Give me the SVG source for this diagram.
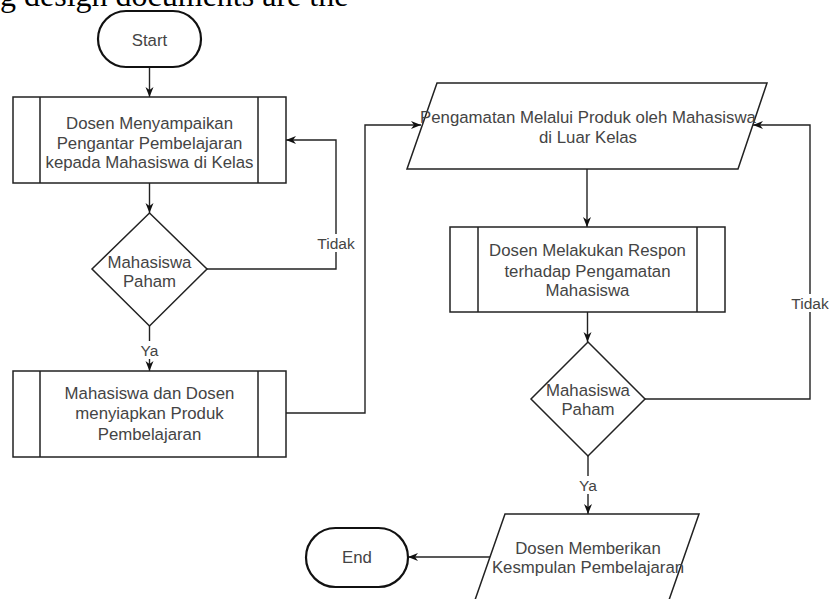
<svg xmlns="http://www.w3.org/2000/svg" width="829" height="599" viewBox="0 0 829 599">
<style>
.shape{fill:#fff;stroke:#222;stroke-width:1.5}
.term{fill:#fff;stroke:#111;stroke-width:2.2}
.t{font-family:"Liberation Sans",Arial,sans-serif;font-size:16.8px;fill:#444;text-anchor:middle;dominant-baseline:central}
.lbl{font-family:"Liberation Sans",Arial,sans-serif;font-size:15.5px;fill:#444;text-anchor:middle;dominant-baseline:central}
.c{fill:none;stroke:#222;stroke-width:1.4;marker-end:url(#ah)}
.bg{fill:#fff;stroke:none}
</style>
<defs>
<marker id="ah" viewBox="0 0 10 10" refX="10" refY="5" markerWidth="10" markerHeight="10" markerUnits="userSpaceOnUse" orient="auto">
<path d="M0,1 L10,5 L0,9 L3,5 z" fill="#111"/>
</marker>
</defs>
<rect width="829" height="599" fill="#fff"/>
<text x="0" y="6" font-family="'Liberation Serif','Times New Roman',serif" font-size="32" fill="#000">g design documents are the</text>

<g id="connectors">
<path class="c" d="M149.5,67 V97"/>
<path class="c" d="M149.5,183 V213"/>
<path class="c" d="M149.5,326 V371"/>
<path class="c" d="M207,269 H336 V140 H286"/>
<path class="c" d="M286,413 H365 V125 H421"/>
<path class="c" d="M587,169 V227"/>
<path class="c" d="M587.5,312 V342"/>
<path class="c" d="M588,456 V514"/>
<path class="c" d="M645,399 H810 V125 H753"/>
<path class="c" d="M490,557 H408"/>
<rect class="bg" x="139" y="341" width="21" height="18"/>
<text class="lbl" x="149.5" y="350">Ya</text>
<rect class="bg" x="315" y="234" width="42" height="18"/>
<text class="lbl" x="336" y="243">Tidak</text>
<rect class="bg" x="577" y="476" width="22" height="18"/>
<text class="lbl" x="588" y="485">Ya</text>
<rect class="bg" x="789" y="294" width="42" height="18"/>
<text class="lbl" x="810" y="303">Tidak</text>
</g>

<g id="start">
<rect class="term" x="98" y="11" width="103" height="56" rx="28"/>
<text class="t" x="149.5" y="40">Start</text>
</g>

<g id="box1">
<rect class="shape" x="13" y="97" width="273" height="86"/>
<path class="shape" d="M40,97 V183 M258,97 V183"/>
<text class="t" x="149.5" y="123">Dosen Menyampaikan</text>
<text class="t" x="149.5" y="143">Pengantar Pembelajaran</text>
<text class="t" x="149.5" y="162">kepada Mahasiswa di Kelas</text>
</g>

<g id="decision1">
<path class="shape" d="M149.5,213 L207,269 L149.5,326 L92,269 Z"/>
<text class="t" x="149.5" y="262">Mahasiswa</text>
<text class="t" x="149.5" y="281">Paham</text>
</g>

<g id="box2">
<rect class="shape" x="13" y="371" width="273" height="86"/>
<path class="shape" d="M40,371 V457 M258,371 V457"/>
<text class="t" x="149.5" y="393">Mahasiswa dan Dosen</text>
<text class="t" x="149.5" y="413">menyiapkan Produk</text>
<text class="t" x="149.5" y="434">Pembelajaran</text>
</g>

<g id="para1">
<path class="shape" d="M437,83 L767,83 L738,169 L407,169 Z"/>
<text class="t" x="588" y="117">Pengamatan Melalui Produk oleh Mahasiswa</text>
<text class="t" x="588" y="137">di Luar Kelas</text>
</g>

<g id="box3">
<rect class="shape" x="450" y="227" width="275" height="85"/>
<path class="shape" d="M478,227 V312 M697,227 V312"/>
<text class="t" x="587.5" y="250">Dosen Melakukan Respon</text>
<text class="t" x="587.5" y="271">terhadap Pengamatan</text>
<text class="t" x="587.5" y="290">Mahasiswa</text>
</g>

<g id="decision2">
<path class="shape" d="M588,342 L645,399 L588,456 L531,399 Z"/>
<text class="t" x="588" y="390">Mahasiswa</text>
<text class="t" x="588" y="409">Paham</text>
</g>

<g id="para2">
<path class="shape" d="M505,514 L699,514 L669,600 L475,600 Z"/>
<text class="t" x="588" y="548">Dosen Memberikan</text>
<text class="t" x="588" y="567">Kesmpulan Pembelajaran</text>
</g>

<g id="end">
<rect class="term" x="306" y="528" width="102" height="59" rx="29.5"/>
<text class="t" x="357" y="557">End</text>
</g>
</svg>
